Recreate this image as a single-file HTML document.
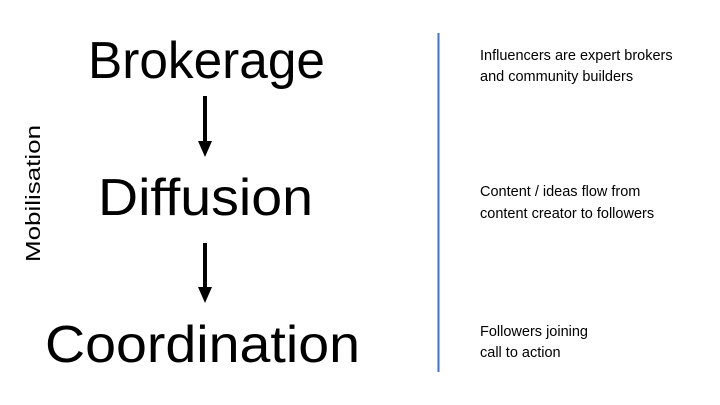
<!DOCTYPE html>
<html><head><style>body{margin:0;background:#fff}</style></head><body>
<svg width="720" height="405" viewBox="0 0 720 405" xmlns="http://www.w3.org/2000/svg" style="display:block">
<g font-family="Liberation Sans, sans-serif" fill="#000">
<text x="88" y="78" font-size="52" textLength="237" lengthAdjust="spacingAndGlyphs">Brokerage</text>
<text x="98" y="215" font-size="52" textLength="215" lengthAdjust="spacingAndGlyphs">Diffusion</text>
<text x="45" y="362" font-size="52" textLength="315" lengthAdjust="spacingAndGlyphs">Coordination</text>
<text transform="translate(40,262) rotate(-90)" font-size="20" textLength="137" lengthAdjust="spacingAndGlyphs">Mobilisation</text>
<g font-size="14.5">
<text x="480" y="60">Influencers are expert brokers</text>
<text x="480" y="81">and community builders</text>
<text x="480" y="196">Content / ideas flow from</text>
<text x="480" y="218">content creator to followers</text>
<text x="480" y="336">Followers joining</text>
<text x="480" y="357">call to action</text>
</g>
</g>
<line x1="438.5" y1="33" x2="438.5" y2="372" stroke="#4472c4" stroke-width="2"/>
<g stroke="#000" stroke-width="4"><line x1="205" y1="96" x2="205" y2="143"/><line x1="205" y1="243" x2="205" y2="289"/></g>
<polygon points="198,141 212,141 205,157"/>
<polygon points="198,287 212,287 205,303"/>
</svg>
</body></html>
